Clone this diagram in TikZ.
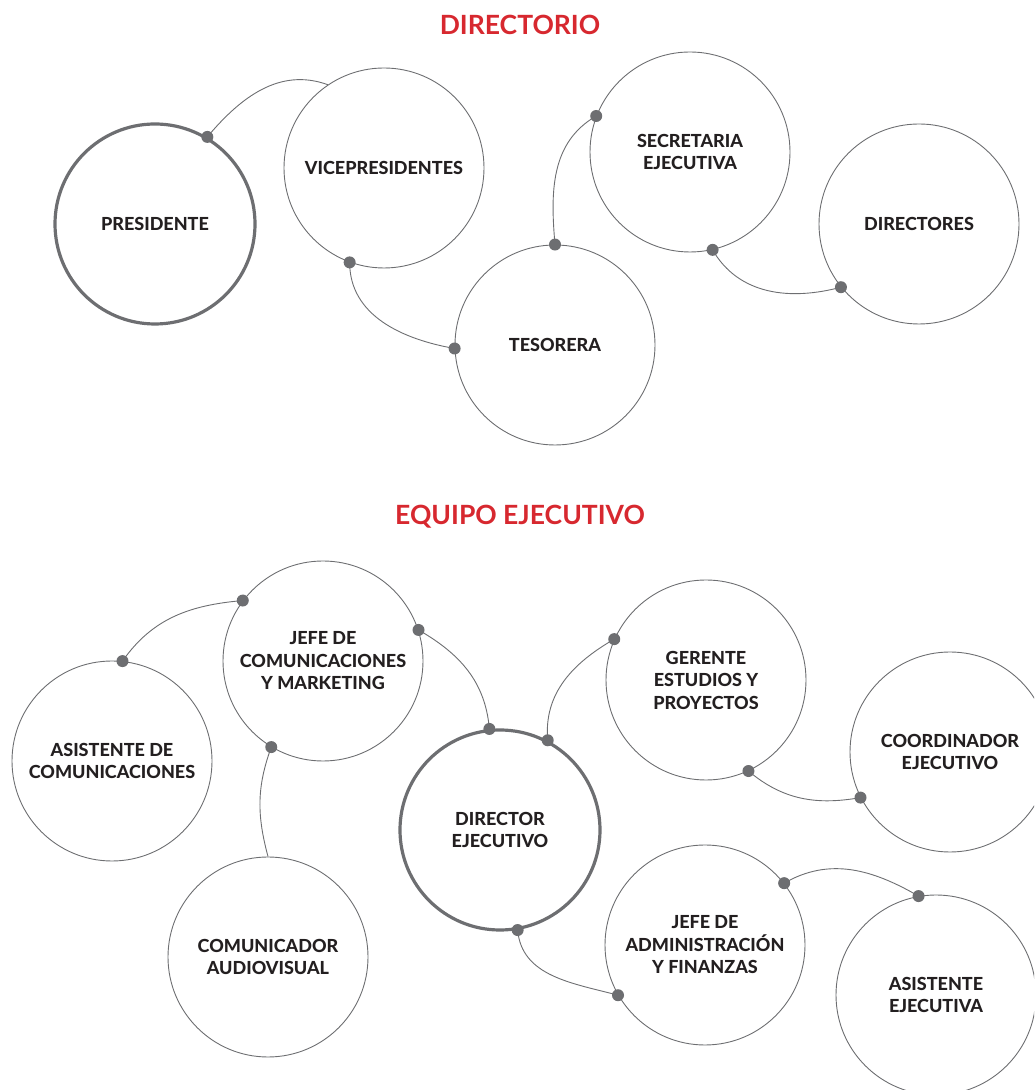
\documentclass[tikz,border=0pt]{standalone}
\usepackage{fontspec}
\setmainfont{Lato}
\newfontfamily\heavyfont{Lato Heavy}
\definecolor{ink}{HTML}{231F20}
\definecolor{ring}{HTML}{6D6E71}
\definecolor{titlered}{HTML}{D7282F}
\begin{document}
\begin{tikzpicture}[x=1pt,y=1pt,
  bubble/.style={circle,draw=ring,line width=0.9pt,minimum size=200pt,inner sep=0pt,align=center,
     font=\fontsize{18}{22.5}\selectfont\heavyfont,text=ink},
  mainbubble/.style={bubble,line width=3.2pt},
  heading/.style={font=\fontsize{26.5}{30}\selectfont\bfseries,text=titlered},
  link/.style={draw=ring,line width=0.9pt},
  knot/.style={fill=ring,draw=none}]
\useasboundingbox (0,0) rectangle (1034,1090);
\clip (0,0) rectangle (1034,1090);

% titles
\node[heading] (t1) at (520,1065) {DIRECTORIO};
\node[heading] (t2) at (520,573) {EQUIPO EJECUTIVO};

% Directorio
\node[mainbubble] (pres) at (155,866) {PRESIDENTE};
\node[bubble] (vice) at (384,922) {VICEPRESIDENTES};
\node[bubble] (tes) at (555,745) {TESORERA};
\node[bubble] (sec) at (690,938) {SECRETARIA\\EJECUTIVA};
\node[bubble] (dirs) at (919,866) {DIRECTORES};

% Equipo ejecutivo
\node[bubble] (jefecom) at (323,429) {JEFE DE\\COMUNICACIONES\\Y MARKETING};
\node[bubble] (asiscom) at (112,329) {ASISTENTE DE\\COMUNICACIONES};
\node[bubble] (comun) at (268,133) {COMUNICADOR\\AUDIOVISUAL};
\node[mainbubble] (direj) at (500,260) {DIRECTOR\\EJECUTIVO};
\node[bubble] (ger) at (706,410) {GERENTE\\ESTUDIOS Y\\PROYECTOS};
\node[bubble] (coord) at (950,338) {COORDINADOR\\EJECUTIVO};
\node[bubble] (admin) at (705,145) {JEFE DE\\ADMINISTRACIÓN\\Y FINANZAS};
\node[bubble] (asisej) at (936,95) {ASISTENTE\\EJECUTIVA};

% connectors
\draw[link] (pres.59) to[out=50,in=160] (vice.124);
\draw[link] (vice.250) to[out=-90,in=170] (tes.182);
\draw[link] (tes.90) to[out=95,in=210] (sec.159);
\draw[link] (sec.283) to[out=-60,in=195] (dirs.219);

\draw[link] (asiscom.84) to[out=55,in=185] (jefecom.143);
\draw[link] (jefecom.18) to[out=-30,in=95] (direj.96);
\draw[link] (jefecom.239) to[out=-110,in=105] (comun.90);
\draw[link] (direj.62) to[out=95,in=210] (ger.156);
\draw[link] (ger.295) to[out=-40,in=190] (coord.207);
\draw[link] (direj.280) to[out=-85,in=165] (admin.210);
\draw[link] (admin.38) to[out=30,in=150] (asisej.100);

% dots
\foreach \p in {pres.59,vice.250,tes.182,tes.90,sec.159,sec.283,dirs.219,
  asiscom.84,jefecom.143,jefecom.18,direj.96,jefecom.239,direj.62,ger.156,
  ger.295,coord.207,direj.280,admin.210,admin.38,asisej.100}
  \fill[knot] (\p) circle (6pt);
\end{tikzpicture}
\end{document}
